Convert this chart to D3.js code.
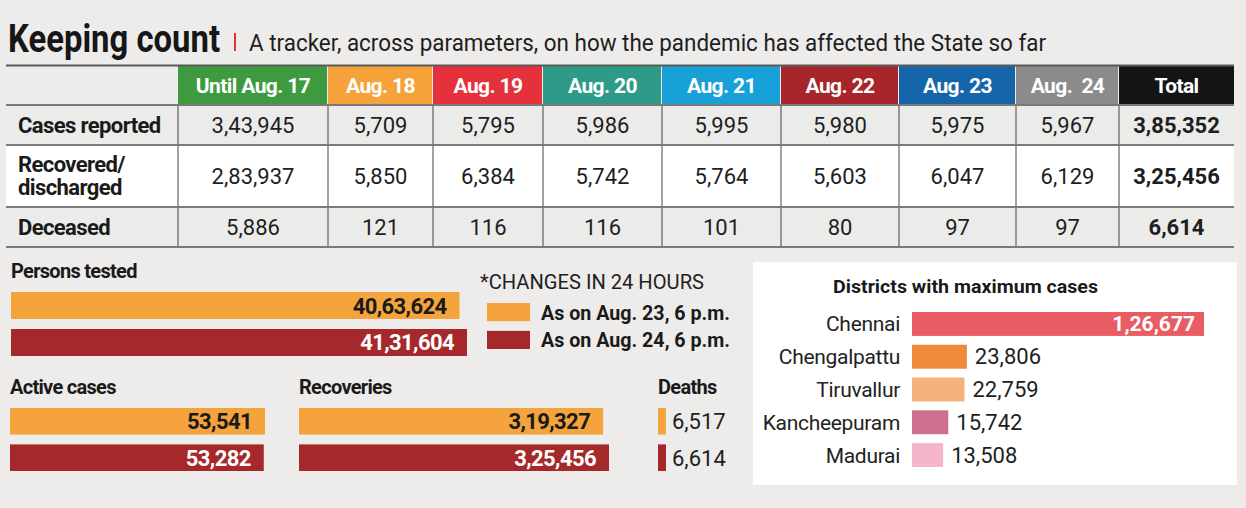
<!DOCTYPE html>
<html>
<head>
<meta charset="utf-8">
<script src="https://cdn.jsdelivr.net/npm/d3@7"></script>
<style>
  html, body { margin: 0; padding: 0; background: #edecea; }
  svg { display: block; }
  text { font-family: Roboto, "Noto Sans", sans-serif; }
</style>
</head>
<body>
<svg id="chart" width="1246" height="508"></svg>
<script>
// ---------------- DATA ----------------
const titleText = "Keeping count";
const subtitleText = "A tracker, across parameters, on how the pandemic has affected the State so far";

const columns = ["Until Aug. 17", "Aug. 18", "Aug. 19", "Aug. 20", "Aug. 21", "Aug. 22", "Aug. 23", "Aug.  24", "Total"];
const rowLabels = [["Cases reported"], ["Recovered/", "discharged"], ["Deceased"]];
const casesReported = [343945, 5709, 5795, 5986, 5995, 5980, 5975, 5967, 385352];
const recoveredDischarged = [283937, 5850, 6384, 5742, 5764, 5603, 6047, 6129, 325456];
const deceased = [5886, 121, 116, 116, 101, 80, 97, 97, 6614];

const legendTitle = "*CHANGES IN 24 HOURS";
const legendLabels = ["As on Aug. 23, 6 p.m.", "As on Aug. 24, 6 p.m."];
const personsTested = [4063624, 4131604];
const activeCases = [53541, 53282];
const recoveries = [319327, 325456];
const deaths = [6517, 6614];

const districtTitle = "Districts with maximum cases";
const districts = ["Chennai", "Chengalpattu", "Tiruvallur", "Kancheepuram", "Madurai"];
const districtCases = [126677, 23806, 22759, 15742, 13508];

// ---------------- STYLE / LAYOUT ----------------
const headerColors = ["#3d9a3f", "#f5a23b", "#e4313b", "#2e9a88", "#18a0d9", "#a8262a", "#1565aa", "#8b8b8b", "#141414"];
const pairColors = ["#f5a33c", "#a5282b"];
const pairText = ["#1a1a1a", "#ffffff"];
const districtColors = ["#e85c63", "#ef8a3a", "#f6b079", "#cf6f90", "#f3b6cc"];
const colEdges = [6, 178, 328, 433, 543, 662, 781, 899, 1016, 1119, 1234];
const rowEdges = [66, 105, 145, 207, 247];
const rowFills = ["#ebebea", "#ffffff", "#ebebea"];

// Indian digit grouping
function fmtIN(n) {
  const s = String(Math.round(n));
  if (s.length <= 3) return s;
  const last3 = s.slice(-3);
  let rest = s.slice(0, -3);
  const parts = [];
  while (rest.length > 2) { parts.unshift(rest.slice(-2)); rest = rest.slice(0, -2); }
  if (rest.length) parts.unshift(rest);
  return parts.join(",") + "," + last3;
}

const svg = d3.select("#chart");
svg.append("rect").attr("width", 1246).attr("height", 508).attr("fill", "#edecea");

// ---------------- TITLE ----------------
svg.append("text").attr("x", 8).attr("y", 52)
  .attr("font-size", 39).attr("font-weight", 700).attr("fill", "#161616")
  .attr("textLength", 212).attr("lengthAdjust", "spacingAndGlyphs")
  .text(titleText);
svg.append("rect").attr("x", 234).attr("y", 33).attr("width", 2).attr("height", 18).attr("fill", "#e0323a");
svg.append("text").attr("x", 249).attr("y", 51)
  .attr("font-size", 23).attr("fill", "#1e1e1e")
  .attr("textLength", 797).attr("lengthAdjust", "spacingAndGlyphs")
  .text(subtitleText);

// ---------------- TABLE ----------------
const table = svg.append("g");
const rows = [casesReported, recoveredDischarged, deceased];

rows.forEach((r, i) => {
  table.append("rect").attr("x", colEdges[0]).attr("y", rowEdges[i + 1])
    .attr("width", colEdges[colEdges.length - 1] - colEdges[0])
    .attr("height", rowEdges[i + 2] - rowEdges[i + 1]).attr("fill", rowFills[i]);
});

columns.forEach((c, j) => {
  const x0 = colEdges[j + 1], x1 = colEdges[j + 2];
  table.append("rect").attr("x", x0).attr("y", rowEdges[0])
    .attr("width", x1 - x0 - (j < columns.length - 1 ? 1 : 0)).attr("height", rowEdges[1] - rowEdges[0])
    .attr("fill", headerColors[j]);
  table.append("text").attr("x", (x0 + x1) / 2).attr("y", (rowEdges[0] + rowEdges[1]) / 2 + 7.5)
    .attr("text-anchor", "middle").attr("font-size", 21).attr("font-weight", 700)
    .attr("fill", "#ffffff").attr("letter-spacing", -0.6).style("white-space", "pre")
    .text(c);
});

colEdges.slice(1, -1).forEach(x => {
  table.append("line").attr("x1", x).attr("x2", x).attr("y1", rowEdges[1]).attr("y2", rowEdges[4])
    .attr("stroke", "#444").attr("stroke-width", 1);
});
table.append("line").attr("x1", colEdges[0]).attr("x2", colEdges[colEdges.length - 1])
  .attr("y1", rowEdges[0] - 0.5).attr("y2", rowEdges[0] - 0.5).attr("stroke", "#5a5a5a").attr("stroke-width", 2);
rowEdges.slice(1).forEach(y => {
  table.append("line").attr("x1", colEdges[0]).attr("x2", colEdges[colEdges.length - 1])
    .attr("y1", y).attr("y2", y).attr("stroke", "#7a7a7a").attr("stroke-width", 2);
});

rows.forEach((r, i) => {
  const yMid = (rowEdges[i + 1] + rowEdges[i + 2]) / 2;
  const lines = rowLabels[i];
  lines.forEach((l, k) => {
    table.append("text").attr("x", 18)
      .attr("y", yMid + 7.5 + (k - (lines.length - 1) / 2) * 23)
      .attr("font-size", 22).attr("font-weight", 700).attr("fill", "#1a1a1a")
      .attr("letter-spacing", -0.6)
      .text(l);
  });
  r.forEach((v, j) => {
    const x0 = colEdges[j + 1], x1 = colEdges[j + 2];
    const isTotal = j === r.length - 1;
    table.append("text").attr("x", (x0 + x1) / 2).attr("y", yMid + 8)
      .attr("text-anchor", "middle").attr("font-size", 22)
      .attr("font-weight", isTotal ? 700 : 400).attr("fill", "#1e1e1e")
      .text(fmtIN(v));
  });
});

// ---------------- PAIRED BAR HELPER ----------------
function pairedBars(values, x0, xScale, yRange, labelInside) {
  const y = d3.scaleBand().domain(d3.range(values.length)).range(yRange).paddingInner(0.27);
  const g = svg.append("g");
  g.selectAll("rect").data(values).join("rect")
    .attr("x", x0).attr("y", (d, i) => y(i))
    .attr("width", d => xScale(d)).attr("height", y.bandwidth())
    .attr("fill", (d, i) => pairColors[i]);
  g.selectAll("text").data(values).join("text")
    .attr("x", d => labelInside ? x0 + xScale(d) - 13 : x0 + xScale(d) + 6)
    .attr("y", (d, i) => y(i) + y.bandwidth() / 2 + 8)
    .attr("text-anchor", labelInside ? "end" : "start")
    .attr("font-size", 22).attr("font-weight", labelInside ? 700 : 400)
    .attr("letter-spacing", labelInside ? -0.6 : 0)
    .attr("fill", (d, i) => labelInside ? pairText[i] : "#1e1e1e")
    .text(d => fmtIN(d));
  return g;
}
function sectionLabel(txt, x, y) {
  svg.append("text").attr("x", x).attr("y", y).attr("font-size", 20).attr("font-weight", 700)
    .attr("fill", "#1a1a1a").attr("letter-spacing", -0.7).text(txt);
}

// Persons tested
sectionLabel("Persons tested", 11, 278);
const xTested = d3.scaleLinear().domain([0, d3.max(personsTested)]).range([0, 456]);
pairedBars(personsTested, 11, xTested, [292, 356], true);

// Legend
svg.append("text").attr("x", 480).attr("y", 289).attr("font-size", 20).attr("fill", "#1e1e1e")
  .attr("textLength", 224).attr("lengthAdjust", "spacingAndGlyphs").text(legendTitle);
const ly = d3.scaleBand().domain(d3.range(legendLabels.length)).range([303, 349]).paddingInner(0.35);
legendLabels.forEach((l, i) => {
  svg.append("rect").attr("x", 487).attr("y", ly(i)).attr("width", 43).attr("height", ly.bandwidth())
    .attr("fill", pairColors[i]);
  svg.append("text").attr("x", 541).attr("y", ly(i) + ly.bandwidth() / 2 + 7.5)
    .attr("font-size", 20).attr("font-weight", 700).attr("fill", "#1a1a1a")
    .attr("textLength", 189).attr("lengthAdjust", "spacingAndGlyphs").text(l);
});

// Active cases
sectionLabel("Active cases", 10, 394);
const xActive = d3.scaleLinear().domain([0, d3.max(activeCases)]).range([0, 255]);
pairedBars(activeCases, 10, xActive, [408, 471], true);

// Recoveries
sectionLabel("Recoveries", 299, 394);
const xRec = d3.scaleLinear().domain([0, d3.max(recoveries)]).range([0, 310]);
pairedBars(recoveries, 299, xRec, [408, 471], true);

// Deaths
sectionLabel("Deaths", 658, 394);
const xDeaths = d3.scaleLinear().domain([0, d3.max(deaths)]).range([0, 8]);
pairedBars(deaths, 658, xDeaths, [408, 471], false);

// ---------------- DISTRICTS PANEL ----------------
svg.append("rect").attr("x", 753).attr("y", 262).attr("width", 484).attr("height", 223).attr("fill", "#ffffff");
svg.append("text").attr("x", 833).attr("y", 293).attr("font-size", 19).attr("font-weight", 700)
  .attr("fill", "#1a1a1a").attr("textLength", 265).attr("lengthAdjust", "spacingAndGlyphs").text(districtTitle);

const dx0 = 912;
const xDist = d3.scaleLinear().domain([0, d3.max(districtCases)]).range([0, 292]);
const yDist = d3.scaleBand().domain(districts).range([312, 467]).paddingInner(0.27);
const dg = svg.append("g");
dg.selectAll("rect").data(districts).join("rect")
  .attr("x", dx0).attr("y", d => yDist(d))
  .attr("width", (d, i) => xDist(districtCases[i])).attr("height", yDist.bandwidth())
  .attr("fill", (d, i) => districtColors[i]);
dg.selectAll("text.lab").data(districts).join("text").attr("class", "lab")
  .attr("x", 900).attr("y", d => yDist(d) + yDist.bandwidth() / 2 + 7.5)
  .attr("text-anchor", "end").attr("font-size", 21).attr("fill", "#222")
  .attr("letter-spacing", -0.3)
  .text(d => d);
dg.selectAll("text.val").data(districts).join("text").attr("class", "val")
  .attr("x", (d, i) => i === 0 ? dx0 + xDist(districtCases[i]) - 9 : dx0 + xDist(districtCases[i]) + 8)
  .attr("y", d => yDist(d) + yDist.bandwidth() / 2 + 7.5)
  .attr("text-anchor", (d, i) => i === 0 ? "end" : "start")
  .attr("font-size", (d, i) => i === 0 ? 21 : 22)
  .attr("font-weight", (d, i) => i === 0 ? 700 : 400)
  .attr("fill", (d, i) => i === 0 ? "#ffffff" : "#1e1e1e")
  .text((d, i) => fmtIN(districtCases[i]));
</script>
</body>
</html>
